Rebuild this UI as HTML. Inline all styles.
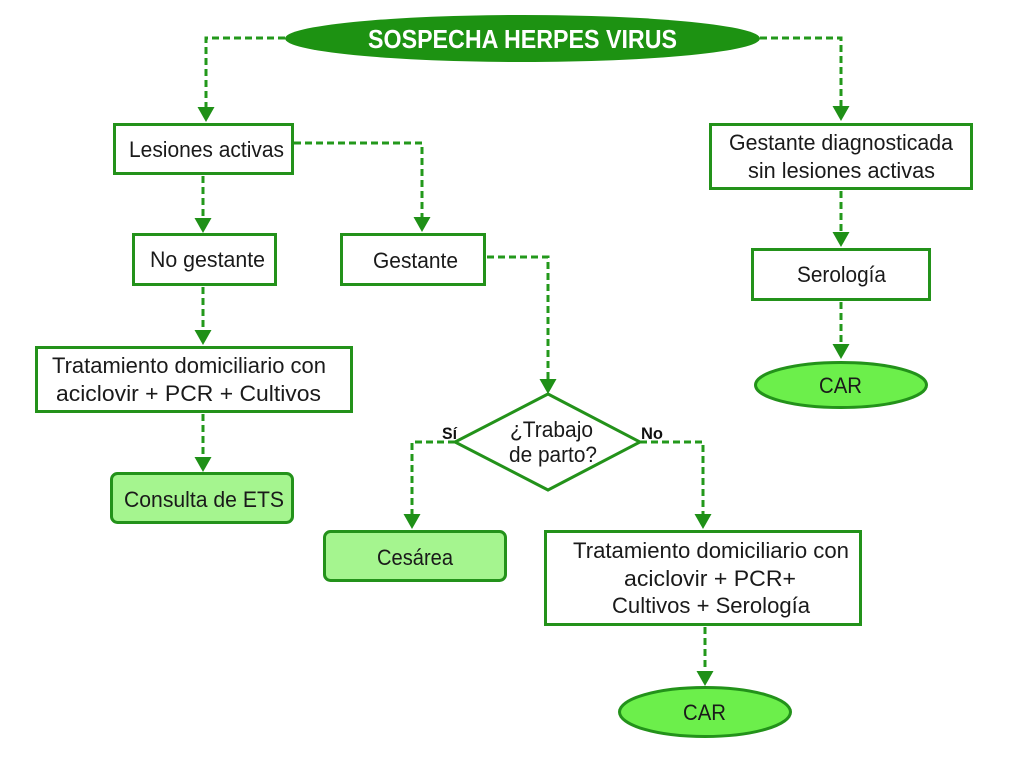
<!DOCTYPE html>
<html>
<head>
<meta charset="utf-8">
<style>
  html, body { margin: 0; padding: 0; background: #ffffff; }
  svg { display: block; }
  .t { font-family: "Liberation Sans Narrow", "Liberation Sans", sans-serif; font-size: 22.5px; fill: #1a1a1a; }
  .b { font-family: "Liberation Sans Narrow", "Liberation Sans", sans-serif; font-weight: bold; fill: #111111; font-size: 16.5px; }
  .h { font-family: "Liberation Sans Narrow", "Liberation Sans", sans-serif; font-weight: bold; fill: #ffffff; font-size: 26px; }
</style>
</head>
<body>
<svg width="1024" height="760" viewBox="0 0 1024 760" xmlns="http://www.w3.org/2000/svg">
  <rect width="1024" height="760" fill="#ffffff"/>

  <!-- dashed connectors -->
  <g stroke="#23981b" stroke-width="3" fill="none" stroke-dasharray="7 4">
    <path d="M285 38 H206 V108"/>
    <path d="M760 38 H841 V107"/>
    <path d="M294 143 H422 V218"/>
    <path d="M203 176 V219"/>
    <path d="M203 287 V331"/>
    <path d="M203 414 V458"/>
    <path d="M487 257 H548 V380"/>
    <path d="M455 442 H412 V515"/>
    <path d="M640 442 H703 V515"/>
    <path d="M705 627 V672"/>
    <path d="M841 191 V233"/>
    <path d="M841 302 V345"/>
  </g>

  <!-- arrowheads -->
  <g fill="#1f9017">
    <polygon points="197.5,107 214.5,107 206,122"/>
    <polygon points="832.5,106 849.5,106 841,121"/>
    <polygon points="413.5,217 430.5,217 422,232"/>
    <polygon points="194.5,218 211.5,218 203,233"/>
    <polygon points="194.5,330 211.5,330 203,345"/>
    <polygon points="194.5,457 211.5,457 203,472"/>
    <polygon points="539.5,379 556.5,379 548,394"/>
    <polygon points="403.5,514 420.5,514 412,529"/>
    <polygon points="694.5,514 711.5,514 703,529"/>
    <polygon points="696.5,671 713.5,671 705,686"/>
    <polygon points="832.5,232 849.5,232 841,247"/>
    <polygon points="832.5,344 849.5,344 841,359"/>
  </g>

  <!-- top ellipse -->
  <ellipse cx="522.5" cy="38.5" rx="237.5" ry="23.5" fill="#1d9212"/>
  <text class="h" x="368" y="48" textLength="309" lengthAdjust="spacingAndGlyphs">SOSPECHA HERPES VIRUS</text>

  <!-- boxes -->
  <g stroke="#23921a" stroke-width="3" fill="#ffffff">
    <rect x="114.5" y="124.5" width="178" height="49"/>
    <rect x="133.5" y="234.5" width="142" height="50"/>
    <rect x="341.5" y="234.5" width="143" height="50"/>
    <rect x="36.5" y="347.5" width="315" height="64"/>
    <rect x="545.5" y="531.5" width="315" height="93"/>
    <rect x="710.5" y="124.5" width="261" height="64"/>
    <rect x="752.5" y="249.5" width="177" height="50"/>
    <polygon points="548,394 640,442 548,490 455,442"/>
  </g>
  <g stroke="#23921a" stroke-width="3" fill="#a5f58f">
    <rect x="111.5" y="473.5" width="181" height="49" rx="6" ry="6"/>
    <rect x="324.5" y="531.5" width="181" height="49" rx="6" ry="6"/>
  </g>
  <g stroke="#23921a" stroke-width="3" fill="#6cef4b">
    <ellipse cx="841" cy="385" rx="85.5" ry="22.5"/>
    <ellipse cx="705" cy="712" rx="85.5" ry="24.5"/>
  </g>

  <!-- labels -->
  <text class="t" x="129" y="157" textLength="155" lengthAdjust="spacingAndGlyphs">Lesiones activas</text>
  <text class="t" x="150" y="267" textLength="115" lengthAdjust="spacingAndGlyphs">No gestante</text>
  <text class="t" x="373" y="268" textLength="85" lengthAdjust="spacingAndGlyphs">Gestante</text>
  <text class="t" x="52" y="373" textLength="274" lengthAdjust="spacingAndGlyphs">Tratamiento domiciliario con</text>
  <text class="t" x="56" y="401" textLength="265" lengthAdjust="spacingAndGlyphs">aciclovir + PCR + Cultivos</text>
  <text class="t" x="124" y="507" textLength="160" lengthAdjust="spacingAndGlyphs">Consulta de ETS</text>

  <text class="t" x="510" y="437" textLength="83" lengthAdjust="spacingAndGlyphs">¿Trabajo</text>
  <text class="t" x="509" y="462" textLength="88" lengthAdjust="spacingAndGlyphs">de parto?</text>
  <text class="b" x="442" y="439" textLength="15" lengthAdjust="spacingAndGlyphs">Sí</text>
  <text class="b" x="641" y="439" textLength="22" lengthAdjust="spacingAndGlyphs">No</text>

  <text class="t" x="377" y="565" textLength="76" lengthAdjust="spacingAndGlyphs">Cesárea</text>
  <text class="t" x="573" y="558" textLength="276" lengthAdjust="spacingAndGlyphs">Tratamiento domiciliario con</text>
  <text class="t" x="624" y="586" textLength="172" lengthAdjust="spacingAndGlyphs">aciclovir + PCR+</text>
  <text class="t" x="612" y="613" textLength="198" lengthAdjust="spacingAndGlyphs">Cultivos + Serología</text>
  <text class="t" x="683" y="720" textLength="43" lengthAdjust="spacingAndGlyphs">CAR</text>

  <text class="t" x="729" y="150" textLength="224" lengthAdjust="spacingAndGlyphs">Gestante diagnosticada</text>
  <text class="t" x="748" y="178" textLength="187" lengthAdjust="spacingAndGlyphs">sin lesiones activas</text>
  <text class="t" x="797" y="282" textLength="89" lengthAdjust="spacingAndGlyphs">Serología</text>
  <text class="t" x="819" y="393" textLength="43" lengthAdjust="spacingAndGlyphs">CAR</text>
</svg>
</body>
</html>
